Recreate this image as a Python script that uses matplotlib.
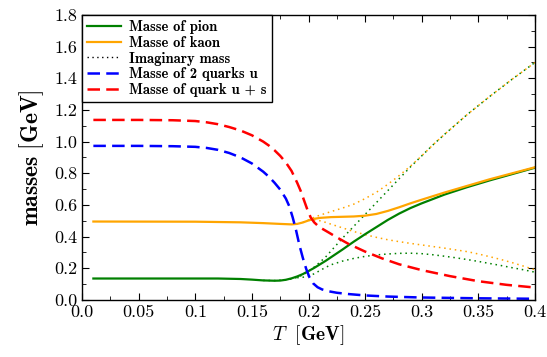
import numpy as np
import matplotlib
matplotlib.use("Agg")
import matplotlib.pyplot as plt

plt.rcParams['font.family'] = 'serif'
plt.rcParams['font.serif'] = ['cmr10']
plt.rcParams['mathtext.fontset'] = 'cm'
plt.rcParams['axes.formatter.use_mathtext'] = True

# pion (solid green)
T_pion = [0.01, 0.05, 0.1, 0.12, 0.14, 0.15, 0.16, 0.17, 0.175, 0.18, 0.185, 0.19, 0.195,
          0.2, 0.205, 0.21, 0.215, 0.22, 0.23, 0.24, 0.25, 0.26, 0.27, 0.28, 0.29, 0.3,
          0.32, 0.34, 0.36, 0.38, 0.4]
m_pion = [0.135, 0.135, 0.135, 0.135, 0.132, 0.128, 0.123, 0.121, 0.122, 0.127, 0.136, 0.148, 0.163,
          0.182, 0.202, 0.224, 0.246, 0.27, 0.318, 0.368, 0.415, 0.46, 0.505, 0.545, 0.58, 0.61,
          0.665, 0.712, 0.755, 0.795, 0.835]

# kaon (solid orange)
T_kaon = [0.01, 0.1, 0.14, 0.16, 0.175, 0.185, 0.19, 0.195, 0.2, 0.205, 0.21, 0.22, 0.23,
          0.24, 0.25, 0.26, 0.27, 0.28, 0.29, 0.3, 0.32, 0.34, 0.36, 0.38, 0.4]
m_kaon = [0.495, 0.494, 0.49, 0.485, 0.48, 0.477, 0.48, 0.489, 0.502, 0.512, 0.518, 0.523, 0.525,
          0.527, 0.532, 0.543, 0.562, 0.585, 0.61, 0.633, 0.678, 0.72, 0.762, 0.8, 0.838]

# 2 quarks u (dashed blue)
T_uu = [0.01, 0.05, 0.08, 0.1, 0.11, 0.12, 0.13, 0.14, 0.15, 0.16, 0.165, 0.17, 0.175, 0.18,
        0.183, 0.186, 0.189, 0.192, 0.195, 0.198, 0.201, 0.204, 0.208, 0.212, 0.218, 0.225,
        0.235, 0.25, 0.27, 0.3, 0.35, 0.4]
m_uu = [0.973, 0.973, 0.971, 0.967, 0.96, 0.948, 0.928, 0.9, 0.862, 0.81, 0.778, 0.74, 0.697, 0.64,
        0.592, 0.522, 0.44, 0.345, 0.265, 0.195, 0.14, 0.105, 0.08, 0.066, 0.054, 0.045,
        0.037, 0.028, 0.021, 0.015, 0.01, 0.007]

# quark u + s (dashed red)
T_us = [0.01, 0.05, 0.08, 0.1, 0.11, 0.12, 0.13, 0.14, 0.15, 0.16, 0.165, 0.17, 0.175, 0.18,
        0.185, 0.19, 0.193, 0.196, 0.199, 0.202, 0.205, 0.208, 0.212, 0.218, 0.225, 0.235,
        0.25, 0.265, 0.28, 0.3, 0.325, 0.35, 0.375, 0.4]
m_us = [1.137, 1.137, 1.135, 1.13, 1.122, 1.11, 1.092, 1.07, 1.04, 1.0, 0.975, 0.945, 0.91, 0.868,
        0.815, 0.74, 0.69, 0.63, 0.57, 0.52, 0.49, 0.47, 0.45, 0.425, 0.395, 0.355,
        0.305, 0.262, 0.225, 0.188, 0.15, 0.118, 0.095, 0.078]

# imaginary mass branches (dotted)
T_im_pi_up = [0.16, 0.17, 0.18, 0.185, 0.19, 0.195, 0.2, 0.205, 0.21, 0.215, 0.22, 0.225,
              0.23, 0.24, 0.25, 0.26, 0.27, 0.28, 0.29, 0.3, 0.31, 0.32, 0.34, 0.36, 0.38, 0.4]
m_im_pi_up = [0.123, 0.122, 0.127, 0.132, 0.142, 0.158, 0.18, 0.207, 0.238, 0.27, 0.31, 0.35,
              0.39, 0.465, 0.54, 0.615, 0.69, 0.765, 0.84, 0.91, 0.98, 1.045, 1.17, 1.285, 1.395, 1.5]
T_im_pi_lo = [0.19, 0.195, 0.2, 0.205, 0.21, 0.215, 0.22, 0.23, 0.24, 0.25, 0.26, 0.27, 0.28,
              0.29, 0.3, 0.31, 0.32, 0.33, 0.34, 0.35, 0.36, 0.37, 0.38, 0.39, 0.4]
m_im_pi_lo = [0.14, 0.143, 0.15, 0.165, 0.185, 0.205, 0.222, 0.245, 0.262, 0.275, 0.284, 0.29, 0.294,
              0.295, 0.292, 0.285, 0.276, 0.266, 0.255, 0.243, 0.23, 0.217, 0.203, 0.19, 0.175]
T_im_k_up = [0.195, 0.2, 0.205, 0.21, 0.22, 0.23, 0.24, 0.25, 0.26, 0.27, 0.28, 0.29, 0.3,
             0.31, 0.32, 0.34, 0.36, 0.38, 0.4]
m_im_k_up = [0.49, 0.505, 0.522, 0.535, 0.558, 0.58, 0.605, 0.64, 0.68, 0.73, 0.785, 0.845, 0.91,
             0.98, 1.045, 1.17, 1.285, 1.395, 1.5]
T_im_k_lo = [0.2, 0.205, 0.21, 0.215, 0.22, 0.23, 0.24, 0.25, 0.26, 0.27, 0.28, 0.29, 0.3,
             0.31, 0.32, 0.33, 0.34, 0.35, 0.36, 0.37, 0.38, 0.39, 0.4]
m_im_k_lo = [0.502, 0.505, 0.5, 0.49, 0.478, 0.455, 0.432, 0.412, 0.395, 0.38, 0.368, 0.357, 0.347,
             0.337, 0.327, 0.316, 0.305, 0.29, 0.273, 0.255, 0.235, 0.213, 0.19]

xticks = [0.0, 0.05, 0.1, 0.15, 0.2, 0.25, 0.3, 0.35, 0.4]
xlabels = ['0.0', '0.05', '0.1', '0.15', '0.2', '0.25', '0.3', '0.35', '0.4']
yticks = [0.0, 0.2, 0.4, 0.6, 0.8, 1.0, 1.2, 1.4, 1.6, 1.8]
ylabels = ['0.0', '0.2', '0.4', '0.6', '0.8', '1.0', '1.2', '1.4', '1.6', '1.8']

fig = plt.figure(figsize=(5.47, 3.57), dpi=100)
ax = fig.add_axes([0.15, 0.16, 0.828, 0.798])

dots = (0, (1, 2.5))
ax.plot(T_im_pi_up, m_im_pi_up, color='green', lw=1.1, ls=dots)
ax.plot(T_im_pi_lo, m_im_pi_lo, color='green', lw=1.1, ls=dots)
ax.plot(T_im_k_up, m_im_k_up, color='orange', lw=1.1, ls=dots)
ax.plot(T_im_k_lo, m_im_k_lo, color='orange', lw=1.1, ls=dots)

ax.plot(T_pion, m_pion, color='green', lw=1.6, label='Masse of pion')
ax.plot(T_kaon, m_kaon, color='orange', lw=1.6, label='Masse of kaon')
ax.plot([], [], color='black', lw=1.0, ls=dots, label='Imaginary mass')
ax.plot(T_uu, m_uu, color='blue', lw=1.8, ls=(0, (5, 2.5)), label='Masse of 2 quarks u')
ax.plot(T_us, m_us, color='red', lw=1.8, ls=(0, (5, 2.5)), label='Masse of quark u + s')

ax.set_xlim(0, 0.4)
ax.set_ylim(0, 1.8)
ax.set_xticks(xticks)
ax.set_xticklabels(xlabels)
ax.set_yticks(yticks)
ax.set_yticklabels(ylabels)
ax.set_xticks(np.arange(0, 0.401, 0.025), minor=True)
ax.set_yticks(np.arange(0, 1.801, 0.1), minor=True)
ax.tick_params(which='both', direction='in', top=True, right=True, labelsize=13)
ax.tick_params(which='major', length=5, width=0.8)
ax.tick_params(which='minor', length=3, width=0.6)
for s in ax.spines.values():
    s.set_linewidth(1.0)

ax.set_xlabel(r'$T\ \ [\mathbf{GeV}]$', fontsize=14, labelpad=2)
ax.set_ylabel(r'$\mathbf{masses\ [GeV]}$', fontsize=17, labelpad=6)

leg = ax.legend(loc='upper left', borderaxespad=0, fancybox=False, framealpha=1,
                edgecolor='black', handlelength=2.3, labelspacing=0.12,
                prop={'family': 'cmb10', 'size': 10.5}, borderpad=0.35, handletextpad=0.6)
leg.get_frame().set_linewidth(1.0)

fig.savefig('out.png', dpi=100)
